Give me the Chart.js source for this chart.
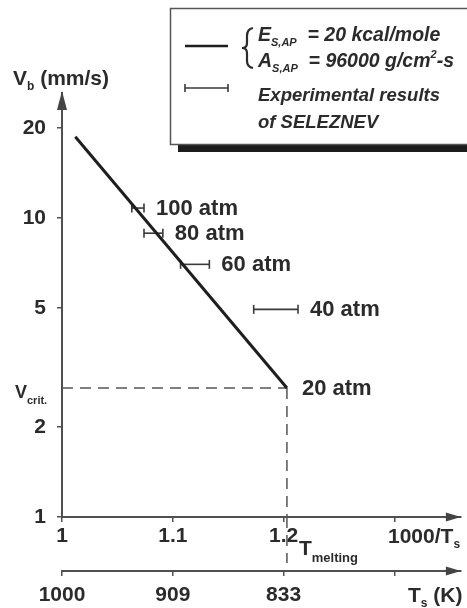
<!DOCTYPE html>
<html><head><meta charset="utf-8">
<script src="https://cdn.jsdelivr.net/npm/chart.js@4"></script>
<style>html,body{margin:0;padding:0;background:#fff}#wrap{width:467px;height:608px;position:relative}</style>
</head><body><div id="wrap"><canvas id="c"></canvas></div>
<script>
// ---- data ----
const pressureLabels = ['100 atm', '80 atm', '60 atm', '40 atm'];
const expRate = [10.8, 8.9, 7.0, 4.95];
const expInvTLow = [1.063, 1.074, 1.107, 1.173];
const expInvTHigh = [1.074, 1.091, 1.133, 1.213];
const modelInvT = [1.012, 1.203];
const modelRate = [18.7, 2.7];
const critLabel = '20 atm';
const vCrit = 2.7;
const invTMelt = 1.203;
const xTicks = [1, 1.1, 1.2, 1.3];
const xTickLabels = ['1', '1.1', '1.2', ''];
const tempTickLabels = ['1000', '909', '833', ''];
const yTicks = [1, 2, 5, 10, 20];
const yTickLabels = ['1', '2', '5', '10', '20'];
const xRange = [1, 1.36];
const yRange = [1, 26.2];

const TXT = '#2b2b2b', AX = '#505050';
const FAM = "'Liberation Sans', Arial, sans-serif";
Chart.defaults.font.family = FAM;

const datasets = [];
datasets.push({
  data: modelInvT.map((x, i) => ({x, y: modelRate[i]})),
  showLine: true, borderColor: '#1e1e1e', borderWidth: 3, pointRadius: 0
});
expRate.forEach((v, i) => datasets.push({
  data: [{x: expInvTLow[i], y: v}, {x: expInvTHigh[i], y: v}],
  showLine: true, borderColor: '#3a3a3a', borderWidth: 1.6,
  pointStyle: 'line', rotation: 90, pointRadius: 4.5, pointBorderWidth: 1.6,
  pointBorderColor: '#3a3a3a'
}));
datasets.push({
  data: [{x: xRange[0], y: vCrit}, {x: invTMelt, y: vCrit}],
  showLine: true, borderColor: '#555', borderWidth: 1.5, borderDash: [11, 7], pointRadius: 0
});
datasets.push({
  data: [{x: invTMelt, y: vCrit}, {x: invTMelt, y: yRange[0]}],
  showLine: true, borderColor: '#555', borderWidth: 1.5, borderDash: [11, 7], pointRadius: 0
});

function withSub(ctx, parts, x, y) {
  let cx = x;
  for (const [t, f, dy] of parts) {
    ctx.font = f;
    ctx.fillText(t, cx, y + (dy || 0));
    cx += ctx.measureText(t).width;
  }
  return cx;
}

const decor = {
  id: 'decor',
  afterDraw(chart) {
    const {ctx, chartArea: a, scales} = chart;
    const x = scales.x, x2 = scales.x2, y = scales.y;
    ctx.save();
    // arrows
    ctx.fillStyle = '#444';
    ctx.beginPath(); ctx.moveTo(a.left, a.top - 2); ctx.lineTo(a.left - 5, a.top + 17); ctx.lineTo(a.left + 5, a.top + 17); ctx.closePath(); ctx.fill();
    [a.bottom, x2.top].forEach(py => {
      ctx.beginPath(); ctx.moveTo(a.right, py); ctx.lineTo(a.right - 15, py - 4.5); ctx.lineTo(a.right - 15, py + 4.5); ctx.closePath(); ctx.fill();
    });
    // dashed extension of melting line down to the temperature axis
    const mx = x.getPixelForValue(invTMelt);
    ctx.strokeStyle = '#555'; ctx.lineWidth = 1.5; ctx.setLineDash([11, 7]);
    ctx.beginPath(); ctx.moveTo(mx, a.bottom); ctx.lineTo(mx, x2.top - 8); ctx.stroke();
    ctx.setLineDash([]);

    ctx.fillStyle = TXT; ctx.textAlign = 'left';
    const B21 = 'bold 21px ' + FAM, B22 = 'bold 22px ' + FAM;
    // pressure labels
    ctx.textBaseline = 'middle';
    pressureLabels.forEach((lab, i) => {
      ctx.font = B22;
      ctx.fillText(lab, x.getPixelForValue(expInvTHigh[i]) + 12, y.getPixelForValue(expRate[i]) + 1);
    });
    ctx.fillText(critLabel, mx + 15, y.getPixelForValue(vCrit) + 1);
    ctx.textBaseline = 'alphabetic';
    // V crit label
    const vy = y.getPixelForValue(vCrit);
    withSub(ctx, [['V', 'bold 18px ' + FAM, 0], ['crit.', 'bold 11px ' + FAM, 6]], 15, vy + 10);
    // y title
    withSub(ctx, [['V', B21, 0], ['b', 'bold 12px ' + FAM, 5], [' (mm/s)', B21, 0]], 13, 85);
    // x titles
    withSub(ctx, [['1000/T', B21, 0], ['s', 'bold 12px ' + FAM, 5]], 388, a.bottom + 26);
    withSub(ctx, [['T', B21, 0], ['melting', 'bold 13px ' + FAM, 7]], mx + 12, a.bottom + 38);
    withSub(ctx, [['T', B21, 0], ['s', 'bold 12px ' + FAM, 5], [' (K)', B21, 0]], 408, x2.top + 31);

    // legend box
    ctx.fillStyle = '#1c1c1c';
    ctx.fillRect(178, 144, 300, 8);
    ctx.fillStyle = '#fff';
    ctx.fillRect(170, 8, 310, 136);
    ctx.strokeStyle = '#555'; ctx.lineWidth = 1.5;
    ctx.strokeRect(170.5, 8.5, 310, 136);
    // line sample
    ctx.strokeStyle = '#1e1e1e'; ctx.lineWidth = 2.5;
    ctx.beginPath(); ctx.moveTo(185, 46); ctx.lineTo(228, 46); ctx.stroke();
    // error bar sample
    ctx.strokeStyle = '#3a3a3a'; ctx.lineWidth = 1.6;
    ctx.beginPath(); ctx.moveTo(185, 88); ctx.lineTo(228, 88);
    ctx.moveTo(185, 84); ctx.lineTo(185, 92); ctx.moveTo(228, 84); ctx.lineTo(228, 92); ctx.stroke();
    // brace
    ctx.strokeStyle = '#2b2b2b'; ctx.lineWidth = 2.2;
    ctx.beginPath();
    ctx.moveTo(253, 28);
    ctx.quadraticCurveTo(247, 29, 247, 36);
    ctx.lineTo(247, 43);
    ctx.quadraticCurveTo(247, 48, 242, 48);
    ctx.quadraticCurveTo(247, 48, 247, 53);
    ctx.lineTo(247, 61);
    ctx.quadraticCurveTo(247, 67, 253, 68);
    ctx.stroke();
    // legend texts
    ctx.fillStyle = TXT;
    const BI = 'italic bold 18.5px ' + FAM, BI2 = 'italic bold 19.5px ' + FAM, BIs = 'italic bold 11px ' + FAM;
    withSub(ctx, [['E', BI2, 0], ['S,AP', BIs, 5], ['  = 20 kcal/mole', BI2, 0]], 258, 41);
    withSub(ctx, [['A', BI2, 0], ['S,AP', BIs, 5], ['  = 96000 g/cm', BI2, 0], ['2', BIs, -9], ['-s', BI2, 0]], 258, 67);
    withSub(ctx, [['Experimental results', BI, 0]], 258, 101);
    withSub(ctx, [['of SELEZNEV', BI, 0]], 258, 128);
    ctx.restore();
  }
};

function axisCommon(labels, padding, height, weight) {
  return {
    type: 'linear', position: 'bottom', min: xRange[0], max: xRange[1], weight,
    afterBuildTicks: s => { s.ticks = xTicks.map(v => ({value: v})); },
    afterFit: s => { s.height = height; },
    ticks: {callback: (v, i) => labels[i], autoSkip: false, maxRotation: 0,
      padding, color: TXT, font: {size: 21, weight: 'bold'}},
    grid: {drawOnChartArea: false, drawTicks: true, tickLength: 5, color: AX, lineWidth: 1.5},
    border: {color: AX, width: 2}
  };
}

new Chart(document.getElementById('c'), {
  type: 'scatter',
  data: {datasets},
  options: {
    responsive: true, maintainAspectRatio: false, animation: false,
    layout: {padding: {top: 93, left: 0, right: 0, bottom: 0}},
    plugins: {legend: {display: false}, tooltip: {enabled: false}},
    scales: {
      x: axisCommon(xTickLabels, 2, 54, 0),
      x2: axisCommon(tempTickLabels, 7, 37, 1),
      y: {
        type: 'logarithmic', min: yRange[0], max: yRange[1],
        afterBuildTicks: s => { s.ticks = yTicks.map(v => ({value: v})); },
        afterFit: s => { s.width = 62; },
        ticks: {callback: (v, i) => yTickLabels[i], autoSkip: false, padding: 11,
          color: TXT, font: {size: 21, weight: 'bold'}},
        grid: {drawOnChartArea: false, drawTicks: true, tickLength: 5, color: AX, lineWidth: 1.5},
        border: {color: AX, width: 2}
      }
    }
  },
  plugins: [decor]
});
</script>
</body></html>
